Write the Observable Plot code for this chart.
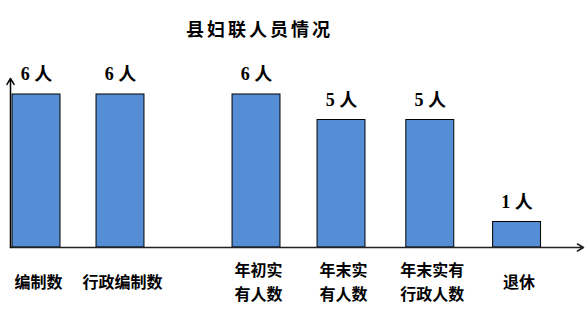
<!DOCTYPE html>
<html><head><meta charset="utf-8">
<script src="https://cdn.jsdelivr.net/npm/d3@7"></script>
<script src="https://cdn.jsdelivr.net/npm/@observablehq/plot@0.6"></script>
<style>
body{margin:0;background:#fff;font-family:"Noto Sans CJK SC",sans-serif;}
#title{height:50px;box-sizing:border-box;padding-top:17px;line-height:22px;width:519px;text-align:center;font-size:18px;font-weight:bold;letter-spacing:3px;color:#000;}
</style>
</head><body>
<div id="title">县妇联人员情况</div>
<div id="chart"></div>
<script>
const categories = ["编制数", "行政编制数", "年初实\n有人数", "年末实\n有人数", "年末实有\n行政人数", "退休"];
const values = [6, 6, 6, 5, 5, 1];
const valueLabels = ["6 人", "6 人", "6 人", "5 人", "5 人", "1 人"];
const slots = [0, 0.981, 2.57, 3.563, 4.6, 5.614];

const data = categories.map((c, i) => ({cat: c, value: values[i], label: valueLabels[i], slot: slots[i]}));
const half = 0.28;
const xDomain = [-0.304, 6.39];
const yTop = 6.63;

const plot = Plot.plot({
  width: 585,
  height: 261,
  marginLeft: 10,
  marginRight: 2,
  marginTop: 44,
  marginBottom: 64,
  x: {type: "linear", domain: xDomain, axis: null},
  y: {domain: [0, 6], axis: null},
  style: {fontFamily: "'Noto Sans CJK SC', sans-serif", overflow: "visible", background: "#fff"},
  marks: [
    Plot.rectY(data, {x1: d => d.slot - half, x2: d => d.slot + half, y: "value", fill: "#558ed5", stroke: "#000", strokeWidth: 1}),
    Plot.arrow([{x1: xDomain[0], y1: 0, x2: xDomain[1], y2: 0}], {x1: "x1", y1: "y1", x2: "x2", y2: "y2", stroke: "#222", strokeWidth: 1.5, headLength: 7}),
    Plot.arrow([{x1: xDomain[0], y1: 0, x2: xDomain[0], y2: yTop}], {x1: "x1", y1: "y1", x2: "x2", y2: "y2", stroke: "#000", strokeWidth: 1.5, headLength: 7}),
    Plot.text(data, {x: "slot", y: "value", text: "label", dy: -20, fontSize: 18, fontWeight: "bold", fill: "#000", fontFamily: "'Liberation Serif', 'Noto Sans CJK SC', serif"}),
    Plot.text(data, {x: "slot", y: () => 0, text: "cat", dy: 33, dx: 2, lineAnchor: "middle", lineHeight: 1.45, fontSize: 16, fontWeight: "bold", fill: "#000"})
  ]
});
document.getElementById("chart").appendChild(plot);
</script>
</body></html>
